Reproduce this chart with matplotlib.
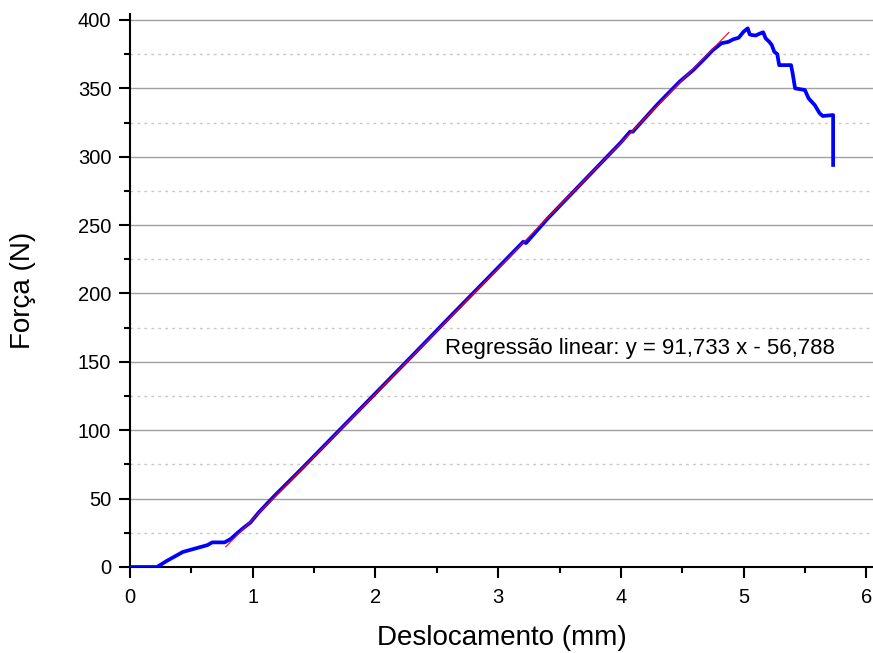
import matplotlib.pyplot as plt
from matplotlib.ticker import MultipleLocator
import numpy as np

plt.rcParams['font.family'] = ['Liberation Sans', 'DejaVu Sans']

# Force vs displacement curve
disp = [0.0, 0.22, 0.30, 0.43, 0.55, 0.63, 0.67, 0.77, 0.82, 0.87, 0.93, 0.98,
        1.05, 1.17, 1.40, 1.70, 2.00, 2.30, 2.60, 2.90, 3.19, 3.205, 3.227,
        3.40, 3.70, 4.00, 4.075, 4.097, 4.30, 4.48, 4.59, 4.68, 4.75, 4.82,
        4.876, 4.917, 4.96, 5.00, 5.034, 5.05, 5.067, 5.10, 5.13, 5.16, 5.18,
        5.21, 5.23, 5.25, 5.275, 5.29, 5.387, 5.40, 5.42, 5.50, 5.53, 5.58,
        5.62, 5.645, 5.73, 5.73]
force = [0.0, 0.0, 4.5, 11.0, 14.0, 16.0, 18.0, 18.0, 20.5, 24.5, 29.0, 32.5,
         40.0, 51.4, 72.0, 99.5, 127.0, 154.5, 182.3, 209.8, 236.5, 237.9, 236.9,
         254.5, 282.5, 310.5, 318.3, 318.3, 338.5, 355.0, 363.4, 371.5, 378.0, 383.0,
         384.0, 385.9, 387.0, 391.4, 393.9, 389.5, 389.0, 388.7, 390.0, 391.0, 386.6,
         384.0, 381.7, 376.8, 375.0, 367.0, 367.0, 361.0, 350.0, 348.8, 342.7, 337.8,
         331.8, 329.8, 330.5, 294.0]

# Linear regression of the elastic region
slope = 91.733
intercept = -56.788
fit_range = [0.78, 4.88]

fig = plt.figure(figsize=(8.73, 6.53), dpi=100)
ax = fig.add_axes([0.149, 0.1317, 0.851, 0.8469])

ax.yaxis.grid(True, which='major', color='#a0a0a0', lw=1.0, ls='-')
ax.yaxis.grid(True, which='minor', color='#c8c8c8', lw=1.0, ls=(0, (2, 3)))
ax.set_axisbelow(True)

xf = np.array(fit_range)
ax.plot(disp, force, color='#0000ff', lw=2.7, zorder=3)
ax.plot(xf, slope * xf + intercept, color='#ff0000', lw=0.8, zorder=4)

ax.text(2.567, 160, 'Regressão linear: y = 91,733 x - 56,788', fontsize=16,
        va='center', ha='left')

ax.set_xlim(0, 6.055)
ax.set_ylim(0, 404.4)
ax.xaxis.set_major_locator(MultipleLocator(1))
ax.xaxis.set_minor_locator(MultipleLocator(0.5))
ax.yaxis.set_major_locator(MultipleLocator(50))
ax.yaxis.set_minor_locator(MultipleLocator(25))

for s in ['top', 'right']:
    ax.spines[s].set_visible(False)
for s in ['left', 'bottom']:
    ax.spines[s].set_linewidth(1.5)
ax.tick_params(which='major', direction='out', length=8, width=1.5,
               labelsize=14.5)
ax.tick_params(which='minor', direction='out', length=4, width=1.5)
ax.tick_params(axis='x', which='major', pad=7)
ax.tick_params(axis='y', which='major', pad=5.5)

ax.set_xlabel('Deslocamento (mm)', fontsize=20, labelpad=13)
ax.set_ylabel('Força (N)', fontsize=20, labelpad=30)

fig.savefig('out.png', dpi=100)
